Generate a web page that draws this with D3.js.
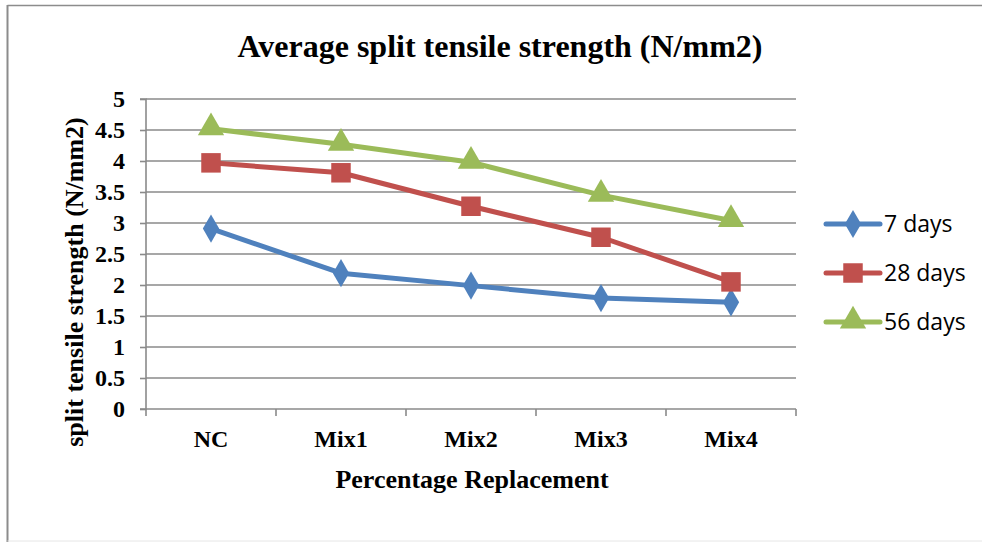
<!DOCTYPE html>
<html><head><meta charset="utf-8">
<script src="https://cdn.jsdelivr.net/npm/d3@7"></script>
<style>body{margin:0;background:#fff}svg{display:block}</style>
</head><body>
<svg id="c" width="982" height="542"></svg>
<script>
const categories = ["NC","Mix1","Mix2","Mix3","Mix4"];
const seriesNames = ["7 days","28 days","56 days"];
const days7  = [2.91, 2.19, 1.99, 1.79, 1.72];
const days28 = [3.97, 3.81, 3.27, 2.77, 2.05];
const days56 = [4.52, 4.27, 3.98, 3.45, 3.04];
const yTicks = [0,0.5,1,1.5,2,2.5,3,3.5,4,4.5,5];
const colors = ["#4F81BD","#C0504D","#9BBB59"];
const shapes = [d3.symbolDiamond, d3.symbolSquare, d3.symbolTriangle];
const series = [days7, days28, days56];

const svg = d3.select("#c");
const L=146, R=796, T=99, B=409;
const x = d3.scaleBand().domain(categories).range([L,R]);
const y = d3.scaleLinear().domain([0,5]).range([B,T]);

// border
svg.append("line").attr("x1",7.5).attr("x2",982).attr("y1",5.5).attr("y2",5.5).attr("stroke","#8c8c8c").attr("stroke-width",1.5);
svg.append("line").attr("x1",7.5).attr("x2",7.5).attr("y1",5).attr("y2",542).attr("stroke","#8c8c8c").attr("stroke-width",2);
svg.append("line").attr("x1",7.5).attr("x2",982).attr("y1",541).attr("y2",541).attr("stroke","#e6e6e6").attr("stroke-width",1);

// gridlines
svg.append("g").selectAll("line").data(yTicks.filter(d=>d>0)).join("line")
  .attr("x1",L).attr("x2",R).attr("y1",d=>y(d)).attr("y2",d=>y(d))
  .attr("stroke","#8a8a8a").attr("stroke-width",1.6);

// y axis
const ya = svg.append("g").attr("transform",`translate(${L},0)`)
  .call(d3.axisLeft(y).tickValues(yTicks).tickSize(6).tickPadding(15).tickFormat(d=>String(d)));
ya.select(".domain").attr("stroke","#8a8a8a").attr("stroke-width",1.6).attr("d",`M-6,${T}H0V${B}H-6`);
ya.selectAll(".tick line").attr("stroke","#8a8a8a").attr("stroke-width",1.6);
ya.selectAll("text").attr("font-family","Liberation Serif").attr("font-weight","bold").attr("font-size","24px").attr("fill","#000");

// x axis
const xa = svg.append("g").attr("transform",`translate(0,${B})`)
  .call(d3.axisBottom(x).tickSize(0).tickPadding(21));
xa.select(".domain").attr("stroke","#8a8a8a").attr("stroke-width",1.6).attr("d",`M${L},0H${R}`);
xa.selectAll("text").attr("font-family","Liberation Serif").attr("font-weight","bold").attr("font-size","24px").attr("fill","#000");
const bounds = categories.map(c=>x(c)).concat([R]);
xa.append("g").selectAll("line").data(bounds).join("line")
  .attr("x1",d=>d).attr("x2",d=>d).attr("y1",0).attr("y2",7)
  .attr("stroke","#8a8a8a").attr("stroke-width",1.6);

// lines + markers
const cx = c => x(c)+x.bandwidth()/2;
const sizes=[230,380,300];
series.forEach((vals,i)=>{
  const line = d3.line().x((d,j)=>cx(categories[j])).y(d=>y(d));
  svg.append("path").datum(vals).attr("d",line).attr("fill","none")
    .attr("stroke",colors[i]).attr("stroke-width",5).attr("stroke-linejoin","round");
  svg.append("g").selectAll("path").data(vals).join("path")
    .attr("transform",(d,j)=>`translate(${cx(categories[j])},${y(d)+(i===2?-1:0)})`)
    .attr("d",d3.symbol().type(shapes[i]).size(sizes[i]))
    .attr("fill",colors[i]);
});

// titles
svg.append("text").attr("x",500).attr("y",57).attr("text-anchor","middle")
  .attr("font-family","Liberation Serif").attr("font-weight","bold").attr("font-size","32px")
  .text("Average split tensile strength (N/mm2)");
svg.append("text").attr("x",472).attr("y",488).attr("text-anchor","middle")
  .attr("font-family","Liberation Serif").attr("font-weight","bold").attr("font-size","26px")
  .text("Percentage Replacement");
svg.append("text").attr("transform","translate(83,282) rotate(-90)").attr("text-anchor","middle")
  .attr("font-family","Liberation Serif").attr("font-weight","bold").attr("font-size","26px")
  .text("split tensile strength (N/mm2)");

// legend
const ly = [224, 273, 322];
seriesNames.forEach((n,i)=>{
  const g = svg.append("g").attr("transform",`translate(0,${ly[i]})`);
  g.append("line").attr("x1",826).attr("x2",880).attr("y1",0).attr("y2",0).attr("stroke",colors[i]).attr("stroke-width",5).attr("stroke-linecap","round");
  g.append("path").attr("transform",`translate(853,${i===2?-1:0})`).attr("d",d3.symbol().type(shapes[i]).size(sizes[i])).attr("fill",colors[i]);
  g.append("text").attr("x",884).attr("y",8).attr("font-family","Open Sans").attr("font-size","23px").attr("fill","#000").text(n);
});
</script>
</body></html>
